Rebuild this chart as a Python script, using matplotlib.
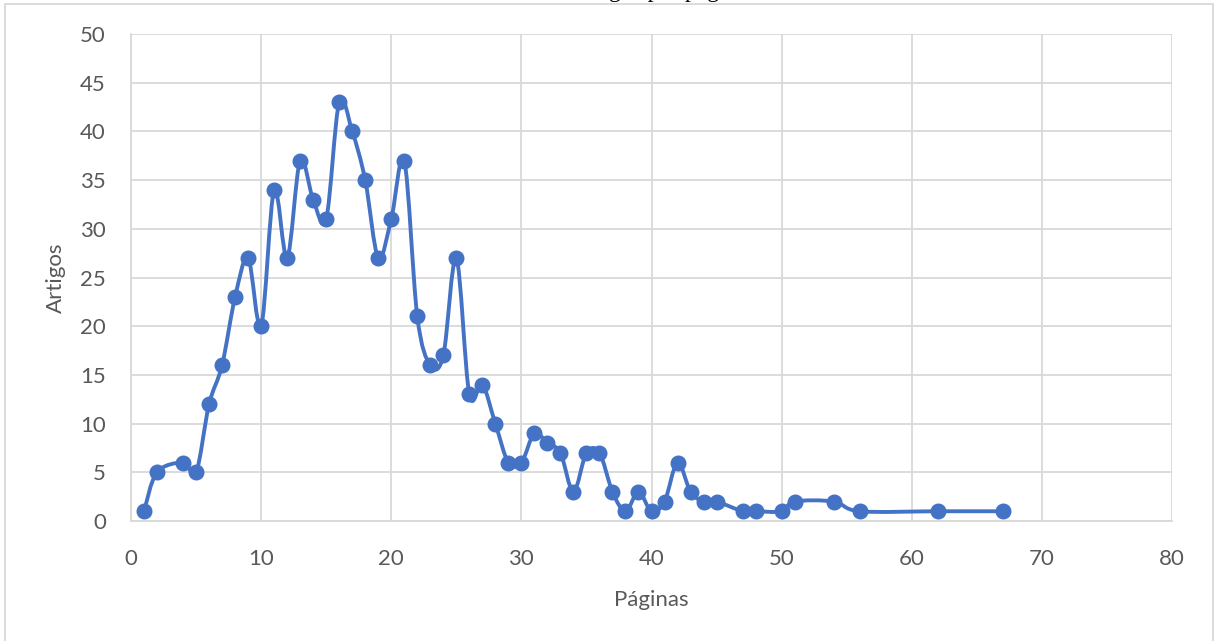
import numpy as np
import matplotlib
matplotlib.use("Agg")
import matplotlib.pyplot as plt
from matplotlib.path import Path
from matplotlib.patches import PathPatch, Rectangle

# Datos: numero de paginas y numero de artigos
paginas = [1, 2, 4, 5, 6, 7, 8, 9, 10, 11, 12, 13, 14, 15, 16, 17, 18, 19, 20,
           21, 22, 23, 24, 25, 26, 27, 28, 29, 30, 31, 32, 33, 34, 35, 36, 37,
           38, 39, 40, 41, 42, 43, 44, 45, 47, 48, 50, 51, 54, 56, 62, 67]
artigos = [1, 5, 6, 5, 12, 16, 23, 27, 20, 34, 27, 37, 33, 31, 43, 40, 35, 27,
           31, 37, 21, 16, 17, 27, 13, 14, 10, 6, 6, 9, 8, 7, 3, 7, 7, 3,
           1, 3, 1, 2, 6, 3, 2, 2, 1, 1, 1, 2, 2, 1, 1, 1]

x_ticks = [0, 10, 20, 30, 40, 50, 60, 70, 80]
y_ticks = [0, 5, 10, 15, 20, 25, 30, 35, 40, 45, 50]

azul = '#4472C4'
gris = '#D9D9D9'
texto = '#595959'

plt.rcParams['font.family'] = ['Lato', 'DejaVu Sans']

fig = plt.figure(figsize=(12.15, 6.41), dpi=100)
ax = fig.add_axes([131 / 1215, 1 - 521 / 641, (1172 - 131) / 1215, (521 - 34) / 641])

# Linea suavizada (curvas de Bezier, como el "smooth line" de Excel)
pts = np.column_stack([paginas, artigos]).astype(float)
verts = [pts[0]]
codes = [Path.MOVETO]
n = len(pts)
for i in range(n - 1):
    p0 = pts[max(i - 1, 0)]
    p1 = pts[i]
    p2 = pts[i + 1]
    p3 = pts[min(i + 2, n - 1)]
    c1 = p1 + (p2 - p0) / 6.0
    c2 = p2 - (p3 - p1) / 6.0
    verts += [c1, c2, p2]
    codes += [Path.CURVE4] * 3
ax.add_patch(PathPatch(Path(verts, codes), fill=False, ec=azul, lw=2.8,
                       capstyle='round', joinstyle='round', zorder=3))
ax.plot(paginas, artigos, 'o', color=azul, ms=10.5, zorder=4)

ax.set_xlim(0, 80)
ax.set_ylim(0, 50)
ax.set_xticks(x_ticks)
ax.set_yticks(y_ticks)
ax.grid(True, color=gris, lw=1.3)
ax.set_axisbelow(True)
for s in ['top', 'right']:
    ax.spines[s].set_visible(False)
for s in ['left', 'bottom']:
    ax.spines[s].set_color(gris)
    ax.spines[s].set_linewidth(1.3)
ax.tick_params(axis='both', length=0, labelsize=16, labelcolor=texto)
ax.tick_params(axis='x', pad=20)
ax.tick_params(axis='y', pad=18)

ax.set_xlabel("Páginas", fontsize=16, color=texto, labelpad=15)
ax.set_ylabel("Artigos", fontsize=16, color=texto, labelpad=10)

# Titulo (cortado en la parte superior de la imagen)
fig.text(0.5, 1.005, "Número de artigos por página", ha='center', va='baseline',
         fontsize=17, family=['Liberation Serif', 'DejaVu Serif'], color='#000000')

# Borde del area del grafico
fig.patches.append(Rectangle((5 / 1215, -0.1), (1213 - 5) / 1215, 1.1 - 4 / 641,
                             transform=fig.transFigure, fill=False, ec=gris, lw=1.3))

fig.savefig("out.png", dpi=100)
